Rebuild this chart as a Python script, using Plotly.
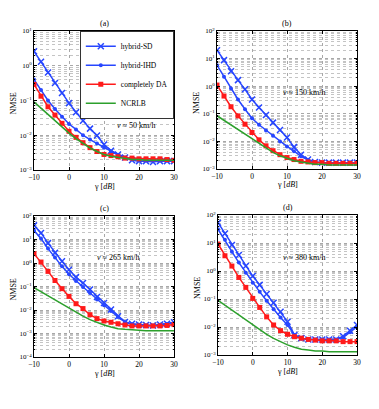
import plotly.graph_objects as go

gamma_db = [-10, -8, -6, -4, -2, 0, 2, 4, 6, 8, 10, 12, 14, 16, 18, 20, 22, 24, 26, 28, 30]

# (a) v ~ 50 km/h
a_sd = [2.6, 1.3, 0.64, 0.32, 0.165, 0.084, 0.046, 0.026, 0.0155, 0.0098, 0.0054, 0.0036, 0.0028, 0.0023, 0.0019, 0.0018, 0.0018, 0.0017, 0.0018, 0.0018, 0.0018]
a_ihd = [0.40, 0.20, 0.10, 0.057, 0.034, 0.021, 0.0147, 0.010, 0.0075, 0.0058, 0.0044, 0.0034, 0.0027, 0.0023, 0.0021, 0.0020, 0.0019, 0.0019, 0.0019, 0.0019, 0.0019]
a_da = [0.29, 0.133, 0.066, 0.038, 0.022, 0.013, 0.0087, 0.0061, 0.0044, 0.0034, 0.0028, 0.0026, 0.0024, 0.0022, 0.0022, 0.0021, 0.0021, 0.0021, 0.0021, 0.0020, 0.0019]
a_crlb = [0.091, 0.060, 0.040, 0.027, 0.0175, 0.0115, 0.0080, 0.0057, 0.0043, 0.0034, 0.0028, 0.0025, 0.0023, 0.0021, 0.0020, 0.0020, 0.0019, 0.0019, 0.0019, 0.0019, 0.0019]

# (b) v ~ 150 km/h
b_sd = [20, 8.8, 3.5, 1.66, 0.77, 0.33, 0.17, 0.091, 0.048, 0.026, 0.0138, 0.0062, 0.0033, 0.0022, 0.0018, 0.0017, 0.0017, 0.0017, 0.0017, 0.0017, 0.0017]
b_ihd = [5.8, 2.2, 0.83, 0.33, 0.146, 0.069, 0.040, 0.025, 0.016, 0.010, 0.0066, 0.0044, 0.0029, 0.0021, 0.0018, 0.0017, 0.0017, 0.0017, 0.0017, 0.0017, 0.0017]
b_da = [1.1, 0.44, 0.18, 0.084, 0.042, 0.021, 0.0114, 0.0069, 0.0046, 0.0033, 0.0026, 0.0022, 0.0019, 0.0018, 0.0017, 0.0017, 0.0016, 0.0016, 0.0016, 0.0016, 0.0016]
b_crlb = [0.085, 0.058, 0.039, 0.026, 0.0175, 0.0118, 0.0080, 0.0056, 0.0040, 0.0030, 0.0024, 0.0020, 0.0018, 0.0016, 0.0015, 0.0015, 0.0014, 0.0014, 0.0014, 0.0014, 0.0014]

# (c) v ~ 265 km/h
c_sd = [40, 19, 7.0, 2.7, 1.18, 0.52, 0.25, 0.14, 0.074, 0.036, 0.020, 0.0105, 0.0054, 0.0031, 0.0026, 0.0024, 0.0023, 0.0022, 0.0024, 0.0026, 0.0030]
c_ihd = [24, 11, 4.1, 1.7, 0.72, 0.33, 0.17, 0.095, 0.053, 0.028, 0.016, 0.0091, 0.0050, 0.0031, 0.0025, 0.0023, 0.0022, 0.0022, 0.0023, 0.0025, 0.0028]
c_da = [2.5, 1.1, 0.44, 0.18, 0.081, 0.038, 0.0185, 0.0115, 0.0063, 0.0043, 0.0034, 0.0030, 0.0026, 0.0023, 0.0021, 0.0021, 0.0021, 0.0021, 0.0021, 0.0022, 0.0024]
c_crlb = [0.090, 0.060, 0.040, 0.027, 0.018, 0.012, 0.0080, 0.0055, 0.0039, 0.0029, 0.0023, 0.0019, 0.0016, 0.0015, 0.0014, 0.0014, 0.0013, 0.0013, 0.0013, 0.0013, 0.0013]

# (d) v ~ 380 km/h
d_sd = [53, 22, 8.5, 3.7, 1.5, 0.66, 0.32, 0.15, 0.074, 0.035, 0.0155, 0.0052, 0.0040, 0.0036, 0.0036, 0.0036, 0.0036, 0.0036, 0.0047, 0.0074, 0.0118]
d_ihd = [31, 13, 4.9, 2.0, 0.87, 0.38, 0.18, 0.087, 0.043, 0.022, 0.0118, 0.0052, 0.0038, 0.0036, 0.0036, 0.0036, 0.0036, 0.0036, 0.0042, 0.0065, 0.0102]
d_da = [9.2, 3.5, 1.5, 0.59, 0.26, 0.105, 0.050, 0.023, 0.0118, 0.0074, 0.0055, 0.0045, 0.0040, 0.0036, 0.0034, 0.0032, 0.0032, 0.0032, 0.0030, 0.0030, 0.0030]
d_crlb = [0.090, 0.060, 0.040, 0.027, 0.018, 0.012, 0.0080, 0.0055, 0.0039, 0.0029, 0.0023, 0.0019, 0.0016, 0.0015, 0.0014, 0.0014, 0.0013, 0.0013, 0.0013, 0.0013, 0.0013]

panel_labels = ["(a)", "(b)", "(c)", "(d)"]
speed_txt = ["50", "150", "265", "380"]
series_names = ["hybrid-SD", "hybrid-IHD", "completely DA", "NCRLB"]
panels = [
    (a_sd, a_ihd, a_da, a_crlb, (-3, 1)),
    (b_sd, b_ihd, b_da, b_crlb, (-3, 2)),
    (c_sd, c_ihd, c_da, c_crlb, (-4, 2)),
    (d_sd, d_ihd, d_da, d_crlb, (-3, 2)),
]

OFF = 8  # page body margin
W, H = 379 - OFF, 409 - OFF
# plot boxes in reference pixels: (left, right, top, bottom)
boxes = [(34, 174, 31, 170), (217, 357, 31, 169), (34, 174, 216, 357), (218, 357, 215, 355)]
note_pos = [(19, -1.73), (14.9, -0.24), (14, 0.24), (14.8, 0.5)]

BLUE = "#2746ff"
RED = "#ff1a1a"
GREEN = "#2ca02c"
FONT = "Liberation Serif"


def px(x):
    return (x - OFF) / W


def py(y):
    return 1 - (y - OFF) / H


fig = go.Figure()
layout = {}
annotations = []
for i, (sd, ihd, da, crlb, yr) in enumerate(panels):
    n = "" if i == 0 else str(i + 1)
    xa, ya = "x" + n, "y" + n
    show = i == 0
    fig.add_trace(go.Scatter(x=gamma_db, y=sd, name=series_names[0], xaxis=xa, yaxis=ya,
                             mode="lines+markers", showlegend=show,
                             line=dict(color=BLUE, width=1.5),
                             marker=dict(symbol="x-thin", size=6, line=dict(color=BLUE, width=1.5))))
    fig.add_trace(go.Scatter(x=gamma_db, y=ihd, name=series_names[1], xaxis=xa, yaxis=ya,
                             mode="lines+markers", showlegend=show,
                             line=dict(color=BLUE, width=1.5),
                             marker=dict(symbol="circle", size=4, color=BLUE)))
    fig.add_trace(go.Scatter(x=gamma_db, y=da, name=series_names[2], xaxis=xa, yaxis=ya,
                             mode="lines+markers", showlegend=show,
                             line=dict(color=RED, width=1.5),
                             marker=dict(symbol="square", size=5, color=RED)))
    fig.add_trace(go.Scatter(x=gamma_db, y=crlb, name=series_names[3], xaxis=xa, yaxis=ya,
                             mode="lines", showlegend=show,
                             line=dict(color=GREEN, width=1.5)))
    l, r, t, b = boxes[i]
    xd = [px(l), px(r)]
    yd = [py(b), py(t)]
    major = [10.0 ** k for k in range(yr[0], yr[1] + 1)]
    minor = [m * 10.0 ** k for k in range(yr[0], yr[1]) for m in range(2, 10)]
    layout["xaxis" + n] = dict(domain=xd, anchor=ya, range=[-10, 30], tickvals=[-10, 0, 10, 20, 30],
                               showline=True, linecolor="black", linewidth=0.8, mirror="ticks",
                               ticks="inside", ticklen=3, tickcolor="black",
                               showgrid=True, gridcolor="#a8a8a8", griddash="dot", gridwidth=0.6,
                               zeroline=False, tickfont=dict(family=FONT, size=7.5, color="black"),
                               automargin=False)
    layout["yaxis" + n] = dict(domain=yd, anchor=xa, type="log", range=list(yr),
                               tickvals=major,
                               ticktext=["10<sup>%s</sup>" % str(k).replace("-", "−") for k in range(yr[0], yr[1] + 1)],
                               showline=True, linecolor="black", linewidth=0.8, mirror="ticks",
                               ticks="inside", ticklen=3, tickcolor="black",
                               showgrid=True, gridcolor="#a8a8a8", griddash="dot", gridwidth=0.6,
                               minor=dict(tickvals=minor, showgrid=True, gridcolor="#c4c4c4", griddash="dot",
                                          gridwidth=0.6, ticks="inside", ticklen=1.5, tickcolor="black"),
                               zeroline=False, tickfont=dict(family=FONT, size=7, color="black"),
                               automargin=False)
    cx = px((l + r) / 2)
    annotations.append(dict(text=panel_labels[i], x=cx, y=py(t - 8), xref="paper", yref="paper",
                            showarrow=False, font=dict(family=FONT, size=8, color="black"),
                            xanchor="center", yanchor="middle"))
    annotations.append(dict(text="γ [<i>dB</i>]", x=cx, y=py(b + 16), xref="paper", yref="paper",
                            showarrow=False, font=dict(family=FONT, size=8, color="black"),
                            xanchor="center", yanchor="middle"))
    annotations.append(dict(text="NMSE", x=px(l - 21), y=py((t + b) / 2 + 3), xref="paper", yref="paper",
                            showarrow=False, textangle=-90, font=dict(family=FONT, size=8, color="black"),
                            xanchor="center", yanchor="middle"))
    nx, ny = note_pos[i]
    annotations.append(dict(text="<i>v</i> ≈ %s km/h" % speed_txt[i], x=nx, y=ny, xref=xa, yref=ya,
                            showarrow=False, font=dict(family=FONT, size=8, color="black"),
                            xanchor="center", yanchor="middle"))

fig.update_layout(**layout)
fig.update_layout(
    width=W, height=H,
    margin=dict(l=0, r=0, t=0, b=0),
    paper_bgcolor="white", plot_bgcolor="white",
    annotations=annotations,
    showlegend=True,
    legend=dict(x=px(174), y=py(31), xanchor="right", yanchor="top",
                bgcolor="white", bordercolor="black", borderwidth=0.8,
                font=dict(family=FONT, size=7.5, color="black"),
                itemwidth=30, tracegroupgap=0),
)
fig.write_html("out.html")
